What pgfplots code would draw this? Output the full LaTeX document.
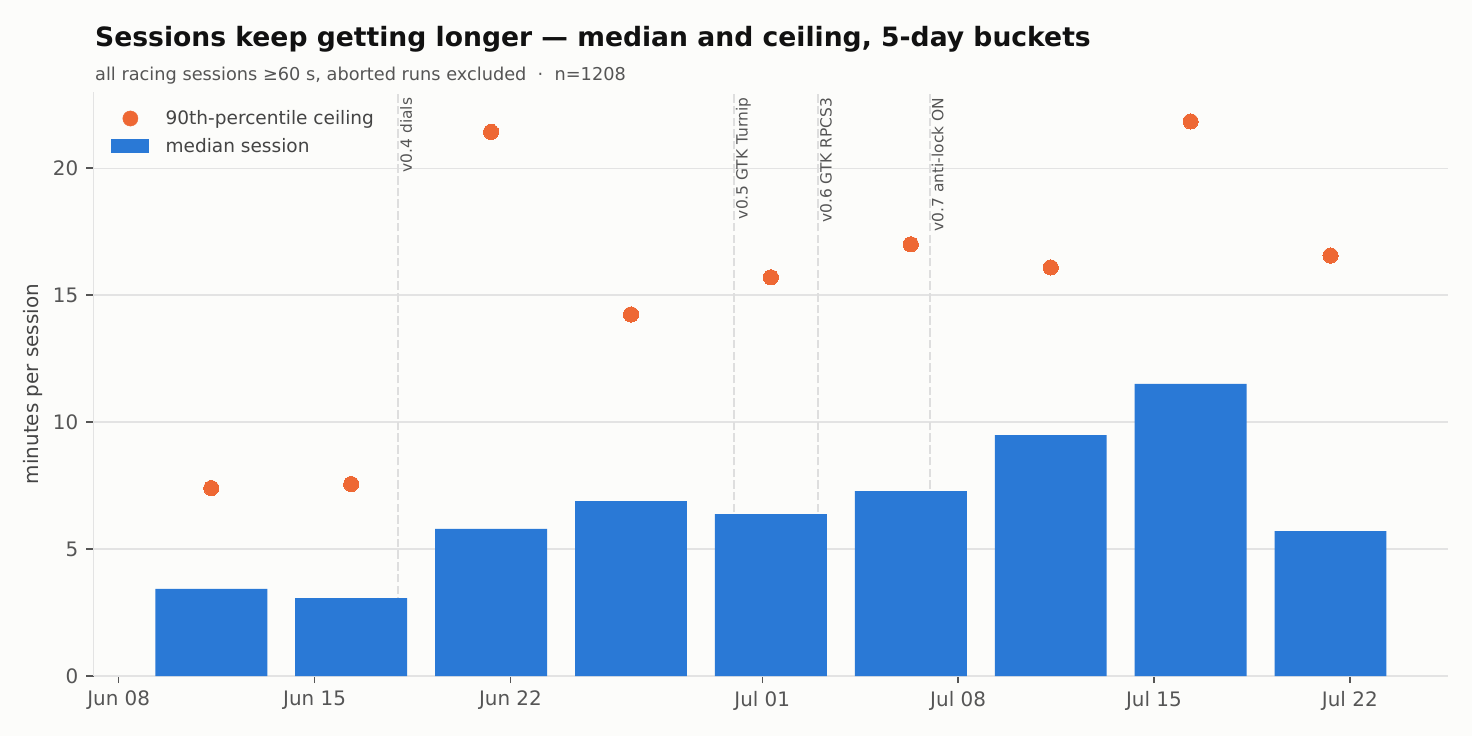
\documentclass[border=0pt]{standalone}
\usepackage{fontspec}
\setmainfont{DejaVu Sans}
\usepackage{pgfplots}
\pgfplotsset{compat=1.18}
\definecolor{bg}{HTML}{FCFCFA}
\definecolor{barcol}{HTML}{2A79D6}
\definecolor{dotcol}{HTML}{EE6834}
\definecolor{gridcol}{HTML}{E3E3E3}
\definecolor{evtcol}{HTML}{DEDEDE}
\definecolor{tickcol}{HTML}{555555}
\definecolor{labcol}{HTML}{444444}
\definecolor{titlecol}{HTML}{111111}
\definecolor{subcol}{HTML}{555555}
\begin{document}
\begin{tikzpicture}
\useasboundingbox (-93.5bp,-60bp) rectangle (1378.5bp,676bp);
\fill[bg] (-93.5bp,-60bp) rectangle (1378.5bp,676bp);
\node[anchor=base west, inner sep=0pt, text=titlecol, font=\fontsize{26.7}{30}\selectfont\bfseries] at (1.5bp,629.3bp) {Sessions keep getting longer — median and ceiling, 5-day buckets};
\node[anchor=base west, inner sep=0pt, text=subcol, font=\fontsize{17.8}{21}\selectfont] at (1.5bp,595bp) {all racing sessions ≥60 s, aborted runs excluded \ · \ n=1208};
\begin{axis}[
  at={(0bp,0bp)}, anchor=south west,
  scale only axis, width=1354.5bp, height=584bp,
  xmin=-0.90, xmax=47.51, ymin=0, ymax=23,
  axis lines*=left,
  axis line style={draw=gridcol, line width=1.4bp},
  xtick={0,7,14,23,30,37,44},
  xticklabels={Jun 08,Jun 15,Jun 22,Jul 01,Jul 08,Jul 15,Jul 22},
  ytick={0,5,10,15,20},
  ymajorgrids, grid style={draw=gridcol, line width=1.3bp},
  tick align=outside, major tick length=7bp,
  major tick style={draw=tickcol, line width=1.4bp},
  /pgf/number format/assume math mode=true,
  tick label style={font=\fontsize{20}{24}\selectfont, text=tickcol, inner sep=0pt},
  xticklabel style={yshift=-8bp},
  yticklabel style={xshift=-8bp},
  ylabel={minutes per session},
  ylabel style={at={(rel axis cs:0,0.5)}, anchor=center, yshift=60.5bp, font=\fontsize{20}{24}\selectfont, text=labcol, inner sep=0pt},
  legend style={at={(rel axis cs:0,1)}, anchor=north west, xshift=17.5bp, yshift=-18.5bp, draw=none, fill=none, inner sep=0pt, font=\fontsize{18.6}{22}\selectfont, text=labcol, row sep=12bp, nodes={inner sep=0pt}},
  legend cell align=left,
  reverse legend,
  clip=false,
]
% release markers
\addplot[evtcol, line width=2bp, dash pattern=on 8.5bp off 3.2bp, forget plot] coordinates {(10,0) (10,23)};
\addplot[evtcol, line width=2bp, dash pattern=on 8.5bp off 3.2bp, forget plot] coordinates {(22,0) (22,23)};
\addplot[evtcol, line width=2bp, dash pattern=on 8.5bp off 3.2bp, forget plot] coordinates {(25,0) (25,23)};
\addplot[evtcol, line width=2bp, dash pattern=on 8.5bp off 3.2bp, forget plot] coordinates {(29,0) (29,23)};
% median bars
\addplot[ybar, bar width=4, fill=barcol, draw=none,
  legend image code/.code={\fill[barcol] (0bp,-7bp) rectangle (38bp,7bp); \path (54bp,0bp);}]
  coordinates {(3.31,3.43) (8.31,3.07) (13.31,5.79) (18.31,6.89) (23.31,6.38) (28.31,7.28) (33.31,9.49) (38.31,11.50) (43.31,5.71)};
\addlegendentry{median session}
% 90th percentile
\addplot[color=dotcol, only marks, mark=*, mark size=7.6bp, mark options={fill=dotcol, draw=dotcol, line width=0pt},
  legend image code/.code={\fill[dotcol] (19bp,0bp) circle (7.6bp); \path (0bp,0bp) (54bp,0bp);}]
  coordinates {(3.31,7.40) (8.31,7.56) (13.31,21.43) (18.31,14.24) (23.31,15.70) (28.31,17.00) (33.31,16.09) (38.31,21.84) (43.31,16.56)};
\addlegendentry{90th-percentile ceiling}
\begin{scope}[every node/.style={rotate=90, anchor=north east, inner sep=0pt, text height=0.76em, text depth=0.24em, font=\fontsize{15.5}{18}\selectfont, text=tickcol}]
\node at (axis cs:10.2,22.78) {v0.4 dials};
\node at (axis cs:22.2,22.78) {v0.5 GTK Turnip};
\node at (axis cs:25.2,22.78) {v0.6 GTK RPCS3};
\node at (axis cs:29.2,22.78) {v0.7 anti-lock ON};
\end{scope}
\end{axis}
\end{tikzpicture}
\end{document}
